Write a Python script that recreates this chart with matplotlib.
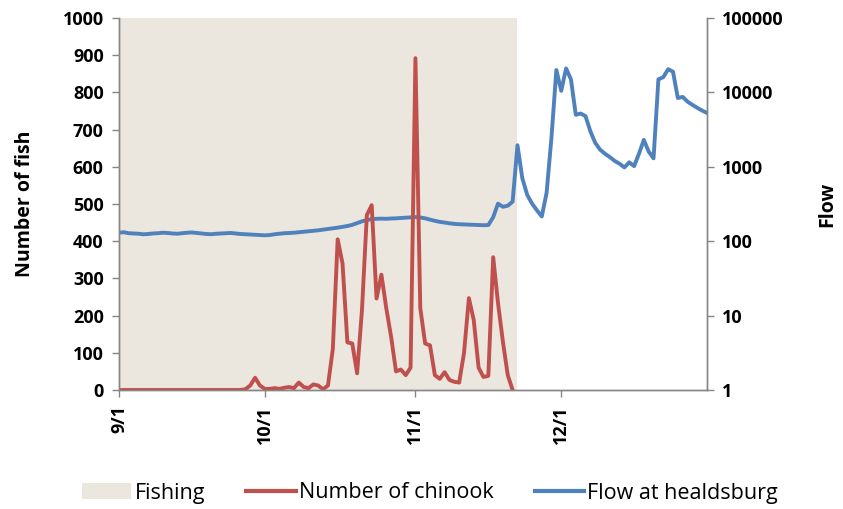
import matplotlib
matplotlib.use("Agg")
import matplotlib.pyplot as plt
from matplotlib.patches import Patch
from matplotlib.lines import Line2D
import pandas as pd

plt.rcParams['font.family'] = ['Open Sans', 'DejaVu Sans']

# daily chinook counts, 9/1 to 11/21
chinook = [0, 0, 0, 0, 0, 0, 0, 0, 0, 0,
           0, 0, 0, 0, 0, 0, 0, 0, 0, 0,
           0, 0, 0, 0, 0, 0, 2, 12, 33, 12,
           3, 3, 5, 3, 6, 8, 5, 20, 8, 5,
           15, 12, 2, 12, 110, 405, 340, 128, 125, 45,
           215, 470, 497, 246, 310, 220, 143, 50, 55, 40,
           60, 892, 220, 125, 120, 40, 30, 48, 27, 22,
           20, 100, 247, 188, 60, 35, 38, 357, 233, 130,
           40, 0]

# daily flow at Healdsburg, 9/1 to 12/31
flow = [130, 132, 128, 127, 126, 124, 125, 127, 128, 130,
        129, 127, 126, 128, 130, 131, 129, 127, 125, 124,
        126, 127, 128, 129, 127, 125, 124, 123, 122, 121,
        120, 121, 124, 126, 128, 129, 130, 132, 134, 136,
        138, 140, 143, 146, 149, 152, 156, 160, 166, 175,
        185, 192, 198, 200, 201, 200, 202, 203, 205, 207,
        209, 211, 208, 203, 195, 188, 182, 178, 174, 171,
        169, 168, 167, 166, 165, 164, 165, 210, 320, 290,
        300, 340, 1950, 700, 420, 320, 260, 215, 450, 2500,
        20000, 10500, 21000, 15000, 5000, 5200, 4800, 3000, 2100, 1700,
        1500, 1350, 1200, 1100, 980, 1150, 1020, 1500, 2300, 1600,
        1300, 15000, 16000, 20500, 19000, 8400, 8700, 7500, 6800, 6200,
        5700, 5300]

fishing_start = '2010-09-01'
fishing_end = '2010-11-22'
tick_labels = ['9/1', '10/1', '11/1', '12/1']
flow_ticks = [1, 10, 100, 1000, 10000, 100000]

days = pd.date_range('2010-09-01', periods=len(flow), freq='D')

red = '#C0504D'
blue = '#4F81BD'
shade = '#ECE7DE'
grey = '#868686'

fig = plt.figure(figsize=(8.43, 5.09), dpi=100)
ax = fig.add_axes([119 / 843, 1 - 390 / 509, (707 - 119) / 843, (390 - 18) / 509])
ax2 = ax.twinx()
# keep the fish counts drawn above the flow line
ax.set_zorder(ax2.get_zorder() + 1)
ax.patch.set_visible(False)

ax2.axvspan(pd.Timestamp(fishing_start), pd.Timestamp(fishing_end), color=shade, lw=0)
ax2.plot(days, flow, color=blue, lw=2.8, solid_joinstyle='round')
ax.plot(days[:len(chinook)], chinook, color=red, lw=2.8, solid_joinstyle='round')

ax.set_xlim(days[0], days[-1])
ax.set_ylim(0, 1000)
ax.set_yticks(range(0, 1001, 100))
ax2.set_yscale('log')
ax2.set_ylim(1, 100000)
ax2.set_yticks(flow_ticks)
ax2.set_yticklabels([str(v) for v in flow_ticks])
ax2.minorticks_off()

ticks = [pd.Timestamp('2010-%02d-01' % m) for m in (9, 10, 11, 12)]
ax.set_xticks(ticks)
ax.set_xticklabels(tick_labels, rotation=90, fontweight='bold', fontsize=13)

for a in (ax, ax2):
    for s in a.spines.values():
        s.set_color(grey)
        s.set_linewidth(1.0)
    a.spines['top'].set_visible(False)
    a.tick_params(colors=grey, length=5, width=1.0, labelcolor='black', pad=6)

ax.tick_params(axis='y', labelsize=13)
ax2.tick_params(axis='y', labelsize=13)
for lab in ax.get_yticklabels() + ax2.get_yticklabels():
    lab.set_fontweight('bold')

ax.set_ylabel('Number of fish', fontsize=14, fontweight='bold', labelpad=20)
ax2.set_ylabel('Flow', fontsize=14, fontweight='bold', labelpad=24)

handles = [Patch(facecolor=shade, edgecolor='none', label='Fishing'),
           Line2D([], [], color=red, lw=3, label='Number of chinook'),
           Line2D([], [], color=blue, lw=3, label='Flow at healdsburg')]
fig.legend(handles=handles, loc='center', bbox_to_anchor=(430 / 843, 1 - 493 / 509),
           ncol=3, frameon=False, fontsize=15.5, handlelength=2.3,
           handletextpad=0.15, columnspacing=1.9)

fig.savefig('out.png', dpi=100)
